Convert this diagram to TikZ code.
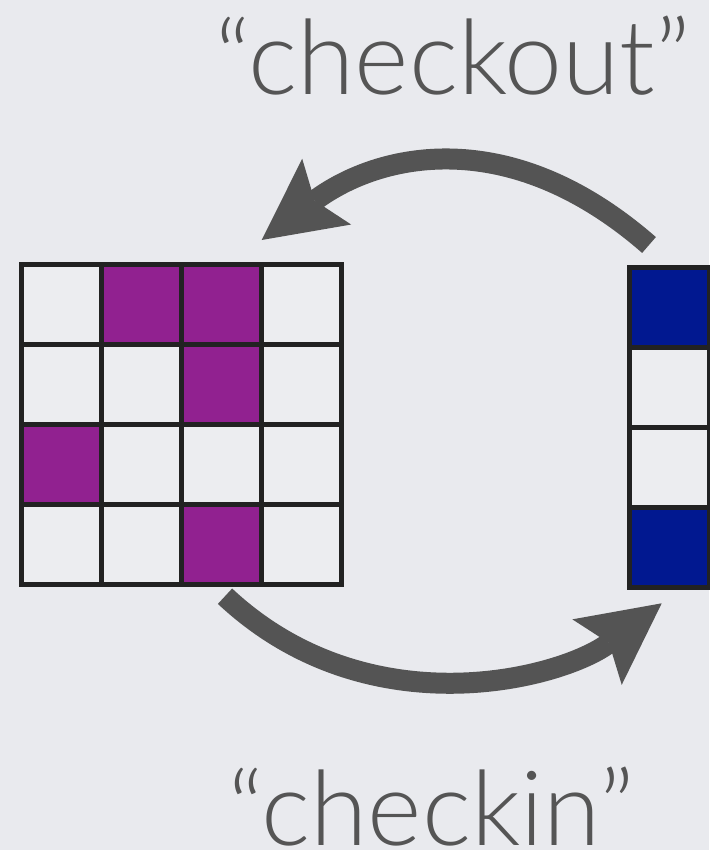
\documentclass[tikz,border=0pt]{standalone}
\usepackage{fontspec}
\newfontfamily\labfont{Lato Light}
\usetikzlibrary{arrows.meta}
\definecolor{bgc}{HTML}{E9EAEE}
\definecolor{cellc}{HTML}{ECEDF0}
\definecolor{gridc}{HTML}{222222}
\definecolor{purp}{HTML}{912190}
\definecolor{blu}{HTML}{011890}
\definecolor{arrc}{HTML}{545454}
\definecolor{txtc}{HTML}{555555}
\begin{document}
\begin{tikzpicture}[x=1pt,y=-1pt,
  cell/.style={draw=gridc, line width=5pt, minimum size=80pt, inner sep=0pt, outer sep=0pt},
  bigarrow/.style={draw=arrc, line width=21pt, -{Stealth[length=81pt,width=82pt,inset=15pt,line width=0pt]}},
  lab/.style={text=txtc, font=\labfont\fontsize{104}{110}\selectfont, inner sep=0pt, anchor=base}]
\fill[bgc] (0,0) rectangle (709,850);
\useasboundingbox (0,0) rectangle (709,850);
% left 4x4 grid
\foreach \r/\c/\f in {1/1/cellc,1/2/purp,1/3/purp,1/4/cellc,
                      2/1/cellc,2/2/cellc,2/3/purp,2/4/cellc,
                      3/1/purp,3/2/cellc,3/3/cellc,3/4/cellc,
                      4/1/cellc,4/2/cellc,4/3/purp,4/4/cellc}
  \node[cell, fill=\f] (m\r\c) at ({61+80*(\c-1)},{304+80*(\r-1)}) {};
% right column
\foreach \r/\f in {1/blu,2/cellc,3/cellc,4/blu}
  \node[cell, fill=\f] (v\r) at (669,{307+80*(\r-1)}) {};
% arrow ends
\coordinate (coS) at (649,245);
\coordinate (coE) at (261.7,240);
\coordinate (ciS) at (225,596.2);
\coordinate (ciE) at (661.7,603.3);
\draw[bigarrow] (coS) .. controls (509.4,123) and (379,152.7) .. (coE);
\draw[bigarrow] (ciS) .. controls (368.6,730.7) and (562.4,678.2) .. (ciE);
% labels
\node[lab] (checkout) at (453,95) {“checkout”};
\node[lab] (checkin) at (431.5,845) {“checkin”};
\end{tikzpicture}
\end{document}
